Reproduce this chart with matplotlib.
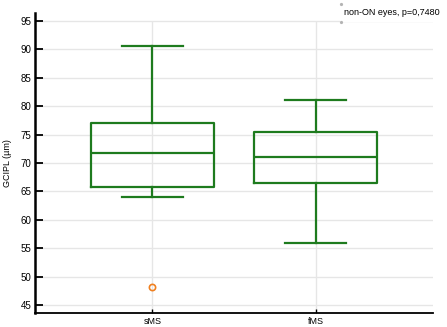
import matplotlib
matplotlib.use("Agg")
import matplotlib.pyplot as plt
from matplotlib.patches import Rectangle

# values
groups = ["sMS", "fMS"]
whislo = [64.1, 56.0]
q1 = [65.8, 66.4]
med = [71.7, 71.0]
q3 = [77.1, 75.5]
whishi = [90.7, 81.1]
fliers = [[48.1], []]
yticks = [45, 50, 55, 60, 65, 70, 75, 80, 85, 90, 95]
note = "non-ON eyes, p=0,7480"

plt.rcParams["font.family"] = ["Liberation Sans", "DejaVu Sans"]
green = "#1e7b1e"
grid_c = "#e6e6e6"

fig = plt.figure(figsize=(4.47, 3.27), dpi=100)
ax = fig.add_axes([0.0783, 0.0437, 0.8904, 0.9163])

stats = []
for i, name in enumerate(groups):
    stats.append(dict(label=name, whislo=whislo[i], q1=q1[i], med=med[i],
                      q3=q3[i], whishi=whishi[i], fliers=fliers[i]))

pos = list(range(len(groups)))
ax.bxp(stats, positions=pos, widths=0.75, patch_artist=False,
       boxprops=dict(color=green, linewidth=1.6),
       medianprops=dict(color=green, linewidth=1.6),
       whiskerprops=dict(color=green, linewidth=1.6),
       capprops=dict(color=green, linewidth=1.6),
       flierprops=dict(marker="o", markerfacecolor="none",
                       markeredgecolor="#f08020", markersize=4.5,
                       markeredgewidth=1.2),
       zorder=3)

ax.set_xlim(-0.719, 1.72)
ax.set_ylim(43.64, 96.41)
ax.set_yticks(yticks)
ax.set_xticks(pos)
ax.set_xticklabels(groups)

for y in yticks:
    ax.axhline(y, color=grid_c, linewidth=1.0, zorder=0)
ax.vlines(pos, 43.64, max(yticks), color=grid_c, linewidth=1.0, zorder=0)

for s in ["top", "right"]:
    ax.spines[s].set_visible(False)
ax.spines["left"].set_linewidth(1.8)
ax.spines["bottom"].set_linewidth(1.3)
ax.tick_params(axis="y", direction="in", length=5.5, width=1.3,
               labelsize=7, pad=2.5)
ax.tick_params(axis="x", direction="in", length=3, width=1.0,
               labelsize=6.5, pad=3)
ax.set_ylabel("GCIPL (µm)", fontsize=6.5, labelpad=6)

# small legend-like note at top right
fig.patches.append(Rectangle((340 / 447, 1 - 22 / 327), 107 / 447, 19 / 327,
                             transform=fig.transFigure, facecolor="white",
                             edgecolor="none", zorder=5))
fig.text(344 / 447, 1 - 12.5 / 327, note, fontsize=6.5, va="center",
         ha="left", zorder=6)
for yy in (4, 22):
    fig.add_artist(plt.Line2D([340.7 / 447], [1 - yy / 327], marker="o",
                              markersize=1.3, color="#b4b4b4",
                              linestyle="none", zorder=6))

fig.savefig("out.png", dpi=100)
